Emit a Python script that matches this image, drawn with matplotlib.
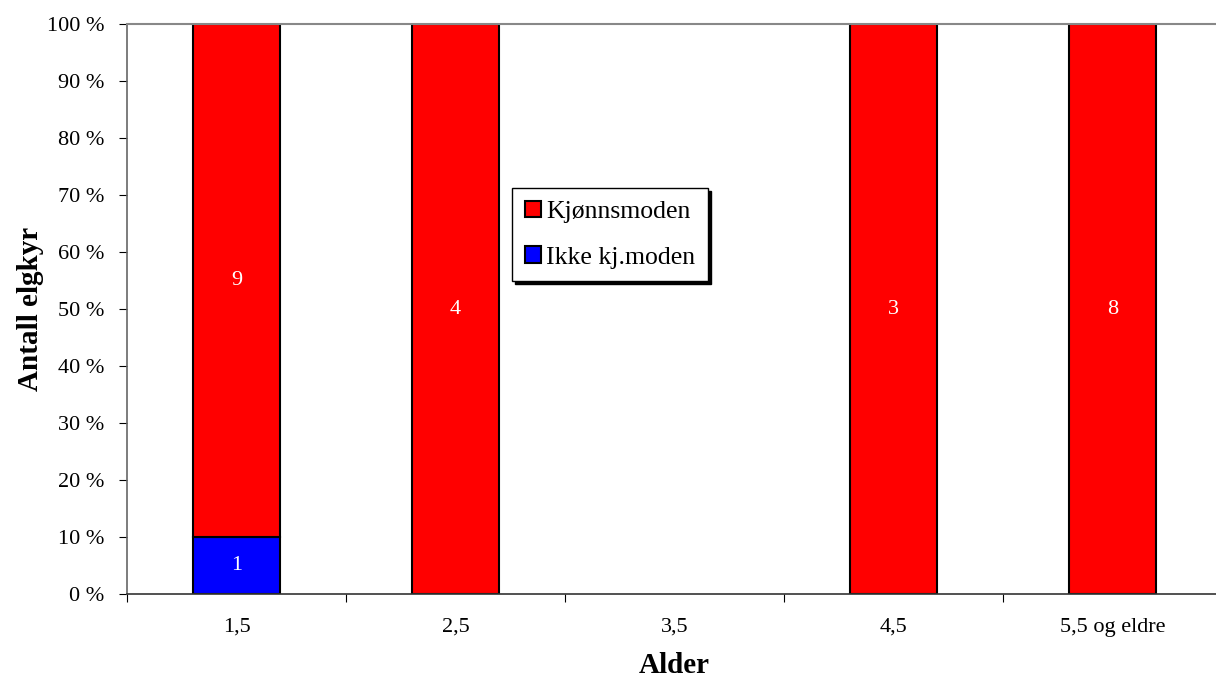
import numpy as np
import matplotlib.pyplot as plt

plt.rcParams['font.family'] = ['Liberation Serif', 'DejaVu Serif']

kategorier = ['1,5', '2,5', '3,5', '4,5', '5,5 og eldre']
ikke_moden = [1, 0, 0, 0, 0]
kjonnsmoden = [9, 4, 0, 3, 8]

ikke = np.array(ikke_moden, dtype=float)
kjm = np.array(kjonnsmoden, dtype=float)
total = ikke + kjm
total_safe = np.where(total == 0, 1, total)
p_ikke = ikke / total_safe * 100
p_kjm = kjm / total_safe * 100

fig = plt.figure(figsize=(12.16, 6.77), dpi=100)
ax = fig.add_axes([127 / 1216, 83 / 677, 1095 / 1216, 570 / 677])

x = np.arange(len(kategorier))
# tomme segmenter tegnes ikke (ingen kantlinje)
lw_ikke = [1.5 if v > 0 else 0 for v in ikke]
lw_kjm = [1.5 if v > 0 else 0 for v in kjm]
b1 = ax.bar(x, p_ikke, width=0.4, color='#0000ff', edgecolor='black', linewidth=lw_ikke,
            label='Ikke kj.moden')
b2 = ax.bar(x, p_kjm, width=0.4, bottom=p_ikke, color='#ff0000', edgecolor='black',
            linewidth=lw_kjm, label='Kjønnsmoden')

# tall i søylene
for i in range(len(x)):
    if ikke[i] > 0:
        ax.text(x[i], p_ikke[i] / 2, f'{int(ikke[i])}', ha='center', va='center',
                color='white', fontsize=16)
    if kjm[i] > 0:
        ax.text(x[i], p_ikke[i] + p_kjm[i] / 2, f'{int(kjm[i])}', ha='center',
                va='center', color='white', fontsize=16)

ax.set_xlim(-0.5, len(kategorier) - 0.5)
ax.set_ylim(0, 100)
ax.set_yticks(np.arange(0, 101, 10))
ax.set_yticklabels([f'{v} %' for v in range(0, 101, 10)], fontsize=16)

ax.set_xticks(np.arange(-0.5, len(kategorier), 1))
ax.set_xticklabels([])
ax.set_xticks(x, minor=True)
ax.set_xticklabels(kategorier, minor=True, fontsize=16)
ax.tick_params(axis='x', which='major', direction='out', length=6, color='black')
ax.tick_params(axis='x', which='minor', length=0, pad=17)
ax.tick_params(axis='y', direction='out', length=6, color='black', pad=10.5)

ax.spines['right'].set_visible(False)
ax.spines['top'].set_color('#888888')
ax.spines['top'].set_linewidth(1.5)
ax.spines['left'].set_color('#666666')
ax.spines['left'].set_linewidth(1.2)
ax.spines['bottom'].set_color('#333333')
ax.spines['bottom'].set_linewidth(1.2)

ax.set_xlabel('Alder', fontsize=21, fontweight='bold', labelpad=11)
ax.set_ylabel('Antall elgkyr', fontsize=21, fontweight='bold', labelpad=2)

leg = ax.legend(handles=[b2, b1], loc='upper left', bbox_to_anchor=(0.352, 0.712),
                fontsize=18.5, fancybox=False, edgecolor='black', framealpha=1,
                shadow={'color': 'black', 'alpha': 1}, handlelength=0.6,
                handleheight=0.6, handletextpad=0.2, labelspacing=0.9,
                borderpad=0.5, borderaxespad=0)
leg.get_frame().set_linewidth(1.0)

fig.savefig('out.png', dpi=100)
